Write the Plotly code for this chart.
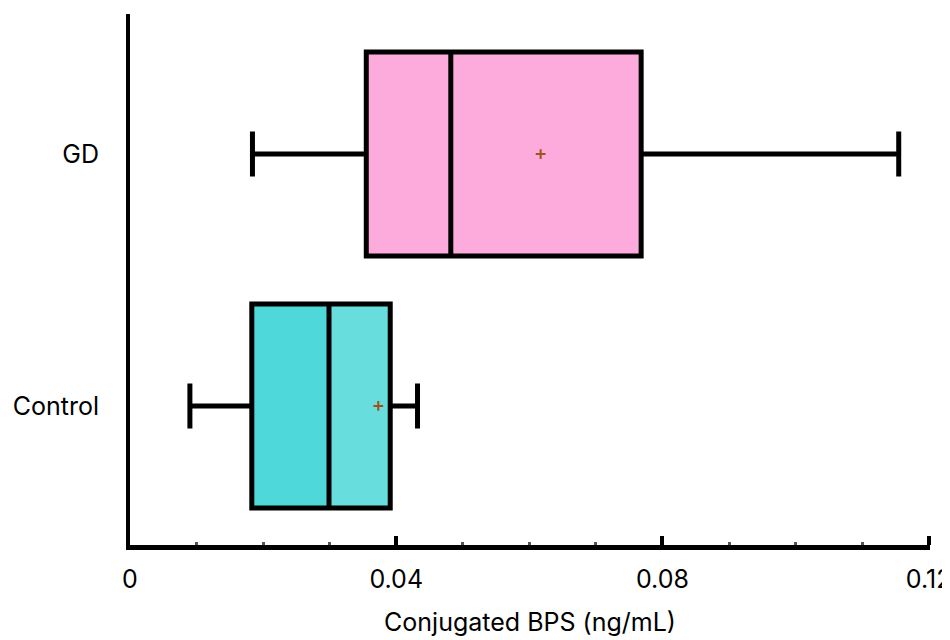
import plotly.graph_objects as go

groups = ["Control", "GD"]
lower = [0.0090, 0.0184]
q1 = [0.0183, 0.0355]
median = [0.0299, 0.0482]
q3 = [0.0391, 0.0768]
upper = [0.0432, 0.1155]
mean = [0.0373, 0.0617]
low_colors = ["#4fd8d9", "#fdaadc"]
high_colors = ["#68dddd", "#fdaadc"]

BW = 0.81
fig = go.Figure()
for i, g in enumerate(groups):
    fig.add_trace(go.Bar(y=[g], x=[median[i] - q1[i]], base=[q1[i]], orientation="h",
                         width=BW, marker=dict(color=low_colors[i], line=dict(width=0)),
                         showlegend=False, hoverinfo="skip"))
    fig.add_trace(go.Bar(y=[g], x=[q3[i] - median[i]], base=[median[i]], orientation="h",
                         width=BW, marker=dict(color=high_colors[i], line=dict(width=0)),
                         showlegend=False, hoverinfo="skip"))

fig.add_trace(go.Box(y=groups, q1=q1, median=median, q3=q3, lowerfence=lower, upperfence=upper,
                     orientation="h", width=BW, whiskerwidth=0.22,
                     fillcolor="rgba(0,0,0,0)", line=dict(color="black", width=5),
                     showlegend=False, boxpoints=False))

fig.add_trace(go.Scatter(x=mean, y=groups, mode="markers",
                         marker=dict(symbol="cross-thin", size=7, color="#a0521c",
                                     line=dict(width=2, color="#a0521c")),
                         showlegend=False))

fig.update_layout(
    width=942, height=632, barmode="overlay",
    margin=dict(l=122, r=20, t=6, b=95),
    paper_bgcolor="white", plot_bgcolor="white",
    font=dict(family="Inter, Noto Sans, sans-serif", size=25, color="black"),
    xaxis=dict(range=[0, 0.1202], tickvals=[0, 0.04, 0.08, 0.12],
               ticktext=["0", "0.04", "0.08", "0.12"],
               ticks="inside", ticklen=9, tickwidth=4, tickcolor="black",
               minor=dict(dtick=0.01, ticks="inside", ticklen=3, tickwidth=3, tickcolor="#555"),
               showline=True, linecolor="black", linewidth=5, showgrid=False, zeroline=False,
               title=dict(text="Conjugated BPS (ng/mL)", font=dict(size=25), standoff=22),
               tickfont=dict(size=25), ticklabelstandoff=8, ticklabeloverflow="allow",
               automargin=False),
    yaxis=dict(type="category", categoryorder="array", categoryarray=groups,
               range=[-0.552, 1.556], showline=True, linecolor="black", linewidth=4,
               ticks="", showgrid=False, zeroline=False, ticklabelstandoff=22,
               tickfont=dict(size=25), automargin=False),
)

fig.write_html("out.html")
